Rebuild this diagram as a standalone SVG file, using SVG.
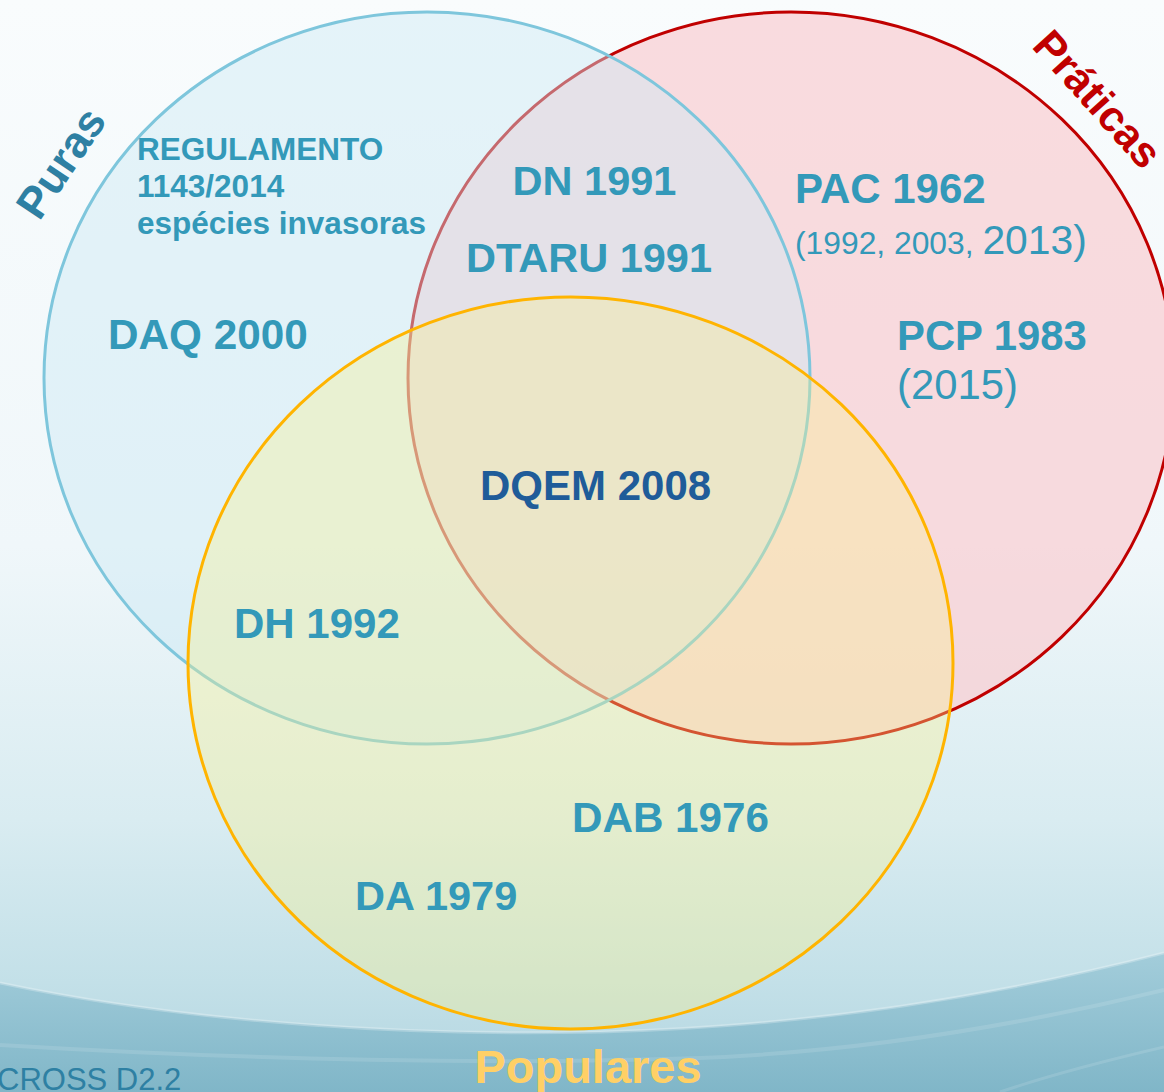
<svg xmlns="http://www.w3.org/2000/svg" width="1164" height="1092" viewBox="0 0 1164 1092">
  <defs>
    <linearGradient id="bg" x1="0" y1="0" x2="0" y2="1">
      <stop offset="0" stop-color="#f9fcfd"/>
      <stop offset="0.5" stop-color="#f0f7fa"/>
      <stop offset="0.75" stop-color="#d9ecf1"/>
      <stop offset="0.9" stop-color="#c3e0e8"/>
      <stop offset="1" stop-color="#b2d5e0"/>
    </linearGradient>
    <linearGradient id="dark" x1="0" y1="940" x2="0" y2="1092" gradientUnits="userSpaceOnUse">
      <stop offset="0" stop-color="#a6cfdc"/>
      <stop offset="1" stop-color="#80b6c8"/>
    </linearGradient>
    <style>
      .lbl { font-family: "Liberation Sans", Arial, sans-serif; font-weight: bold; fill: #3399b9; }
      .reg { font-family: "Liberation Sans", Arial, sans-serif; font-weight: normal; fill: #3399b9; }
      .title { font-family: "Liberation Sans", Arial, sans-serif; font-weight: bold; }
    </style>
  </defs>

  <g id="background">
    <rect x="0" y="0" width="1164" height="1092" fill="url(#bg)"/>
    <path d="M0,983 C200,1025 420,1036 600,1032 C820,1026 1000,995 1164,953 L1164,1092 L0,1092 Z" fill="url(#dark)"/>
    <path d="M0,983 C200,1025 420,1036 600,1032 C820,1026 1000,995 1164,953" fill="none" stroke="#ffffff" stroke-opacity="0.25" stroke-width="3"/>
    <path d="M1164,990 C1000,1030 850,1052 700,1058 C500,1065 250,1060 0,1045" fill="none" stroke="#ffffff" stroke-opacity="0.12" stroke-width="4"/>
    <path d="M1164,1047 C1100,1062 1050,1075 1000,1092" fill="none" stroke="#ffffff" stroke-opacity="0.12" stroke-width="3"/>
  </g>

  <g id="circle-praticas">
    <ellipse cx="791" cy="378" rx="383" ry="366" fill="rgb(250,205,210)" fill-opacity="0.7" stroke="#c00000" stroke-width="3"/>
  </g>
  <g id="circle-puras">
    <ellipse cx="427" cy="378" rx="383" ry="366" fill="rgb(205,232,244)" fill-opacity="0.45" stroke="#7ec6dc" stroke-width="3"/>
  </g>
  <g id="circle-populares">
    <ellipse cx="570.5" cy="663" rx="382.5" ry="366" fill="rgb(250,240,140)" fill-opacity="0.35" stroke="#ffb400" stroke-width="3"/>
  </g>

  <g id="title-puras">
    <text class="title" fill="#2e80a3" font-size="44" text-anchor="middle" transform="translate(61,163) rotate(-56)" x="0" y="15">Puras</text>
  </g>
  <g id="title-praticas">
    <text class="title" fill="#c00000" font-size="43" text-anchor="middle" transform="translate(1098,99) rotate(48)" x="0" y="15">Práticas</text>
  </g>
  <g id="title-populares">
    <text class="title" fill="#ffd066" font-size="47" text-anchor="middle" x="588" y="1083">Populares</text>
  </g>

  <g id="label-regulamento">
    <text class="lbl" font-size="31.5" x="137" y="160">REGULAMENTO</text>
    <text class="lbl" font-size="31.5" x="137" y="197">1143/2014</text>
    <text class="lbl" font-size="31.5" x="137" y="234">espécies invasoras</text>
  </g>
  <g id="label-dn">
    <text class="lbl" font-size="41.5" text-anchor="middle" x="594.5" y="195">DN 1991</text>
  </g>
  <g id="label-dtaru">
    <text class="lbl" font-size="41.5" text-anchor="middle" x="589" y="272">DTARU 1991</text>
  </g>
  <g id="label-pac">
    <text class="lbl" font-size="42" x="795" y="203">PAC 1962</text>
    <text class="reg" x="795" y="254"><tspan font-size="31.8">(1992, 2003, </tspan><tspan font-size="40.8">2013)</tspan></text>
  </g>
  <g id="label-pcp">
    <text class="lbl" font-size="41.8" x="897" y="350">PCP 1983</text>
    <text class="reg" font-size="41.8" x="897" y="399">(2015)</text>
  </g>
  <g id="label-daq">
    <text class="lbl" font-size="42.3" x="108" y="349">DAQ 2000</text>
  </g>
  <g id="label-dqem">
    <text class="title" fill="#1f5c99" font-size="42" x="480" y="500">DQEM 2008</text>
  </g>
  <g id="label-dh">
    <text class="lbl" font-size="42" x="234" y="638">DH 1992</text>
  </g>
  <g id="label-dab">
    <text class="lbl" font-size="42.2" x="572" y="832">DAB 1976</text>
  </g>
  <g id="label-da">
    <text class="lbl" font-size="41.5" x="355" y="910">DA 1979</text>
  </g>

  <g id="footer">
    <text class="reg" style="fill:#2e80a3" font-size="31" x="-3" y="1090">CROSS D2.2</text>
  </g>
</svg>
